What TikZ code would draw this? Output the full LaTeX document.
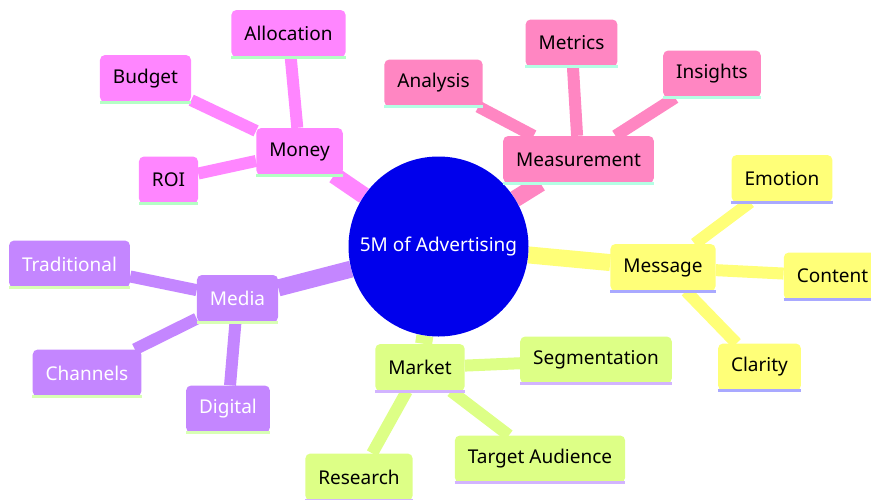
\documentclass[tikz,border=0pt]{standalone}
\usepackage{fontspec}
\setmainfont{Noto Sans}
\usetikzlibrary{backgrounds}

\definecolor{rootblue}{HTML}{0000EC}
\definecolor{msgfill}{HTML}{FFFF78}
\definecolor{msgline}{HTML}{A9A9FF}
\definecolor{mktfill}{HTML}{DDFF86}
\definecolor{mktline}{HTML}{D2B4FF}
\definecolor{medfill}{HTML}{C486FF}
\definecolor{medline}{HTML}{D8FFB4}
\definecolor{monfill}{HTML}{FF86FF}
\definecolor{monline}{HTML}{B4FFC4}
\definecolor{measfill}{HTML}{FF86C2}
\definecolor{measline}{HTML}{B4FFE4}

\tikzset{
  topic/.style={rectangle, rounded corners=5pt, inner xsep=13pt, minimum height=47pt,
    font=\fontsize{19}{22}\selectfont, text=black},
  rootnode/.style={circle, fill=rootblue, minimum size=180pt, inner sep=0pt,
    font=\fontsize{19}{22}\selectfont, text=white},
  branch/.style={line width=17pt, #1},
  twig/.style={line width=12pt, #1},
  bar/.style={line width=3pt, #1}
}

\begin{document}
\begin{tikzpicture}[x=1pt,y=-1pt]
\useasboundingbox (0,0) rectangle (871,499);

% centre
\node[rootnode] (root) at (438.5,246.5) {5M of Advertising};

% money
\node[topic, fill=monfill] (money) at (299.5,151.5) {Money};
\node[topic, fill=monfill] (allocation) at (288.5,33.5) {Allocation};
\node[topic, fill=monfill] (budget) at (145.5,78.5) {Budget};
\node[topic, fill=monfill] (roi) at (168.5,180) {ROI};

% measurement
\node[topic, fill=measfill] (measurement) at (578.5,159.5) {Measurement};
\node[topic, fill=measfill] (metrics) at (571.5,43) {Metrics};
\node[topic, fill=measfill] (analysis) at (433.5,83) {Analysis};
\node[topic, fill=measfill] (insights) at (712,74) {Insights};

% message
\node[topic, fill=msgfill] (message) at (663,267.5) {Message};
\node[topic, fill=msgfill] (emotion) at (782,178.5) {Emotion};
\node[topic, fill=msgfill] (content) at (832.5,276) {Content};
\node[topic, fill=msgfill] (clarity) at (759.5,367) {Clarity};

% market
\node[topic, fill=mktfill] (market) at (420,367.5) {Market};
\node[topic, fill=mktfill] (segmentation) at (596,360) {Segmentation};
\node[topic, fill=mktfill] (target) at (540,459) {Target Audience};
\node[topic, fill=mktfill] (research) at (359,477) {Research};

% media
\node[topic, fill=medfill, text=white] (media) at (237.5,298.5) {Media};
\node[topic, fill=medfill, text=white] (traditional) at (69.5,264) {Traditional};
\node[topic, fill=medfill, text=white] (channels) at (87,373) {Channels};
\node[topic, fill=medfill, text=white] (digital) at (228,409) {Digital};

% underlines
\foreach \n in {money,allocation,budget,roi}
  \draw[bar=monline] (\n.south west) -- (\n.south east);
\foreach \n in {measurement,metrics,analysis,insights}
  \draw[bar=measline] (\n.south west) -- (\n.south east);
\foreach \n in {message,emotion,content,clarity}
  \draw[bar=msgline] (\n.south west) -- (\n.south east);
\foreach \n in {market,segmentation,target,research}
  \draw[bar=mktline] (\n.south west) -- (\n.south east);
\foreach \n in {media,traditional,channels,digital}
  \draw[bar=medline] (\n.south west) -- (\n.south east);

\begin{pgfonlayer}{background}
  \draw[branch=monfill] (root) -- (money);
  \draw[branch=measfill] (root) -- (measurement);
  \draw[branch=msgfill] (root) -- (message);
  \draw[branch=mktfill] (root) -- (market);
  \draw[branch=medfill] (root) -- (media);
  \foreach \n in {allocation,budget,roi}
    \draw[twig=monfill] (money) -- (\n);
  \foreach \n in {metrics,analysis,insights}
    \draw[twig=measfill] (measurement) -- (\n);
  \foreach \n in {emotion,content,clarity}
    \draw[twig=msgfill] (message) -- (\n);
  \foreach \n in {segmentation,target,research}
    \draw[twig=mktfill] (market) -- (\n);
  \foreach \n in {traditional,channels,digital}
    \draw[twig=medfill] (media) -- (\n);
\end{pgfonlayer}
\end{tikzpicture}
\end{document}
